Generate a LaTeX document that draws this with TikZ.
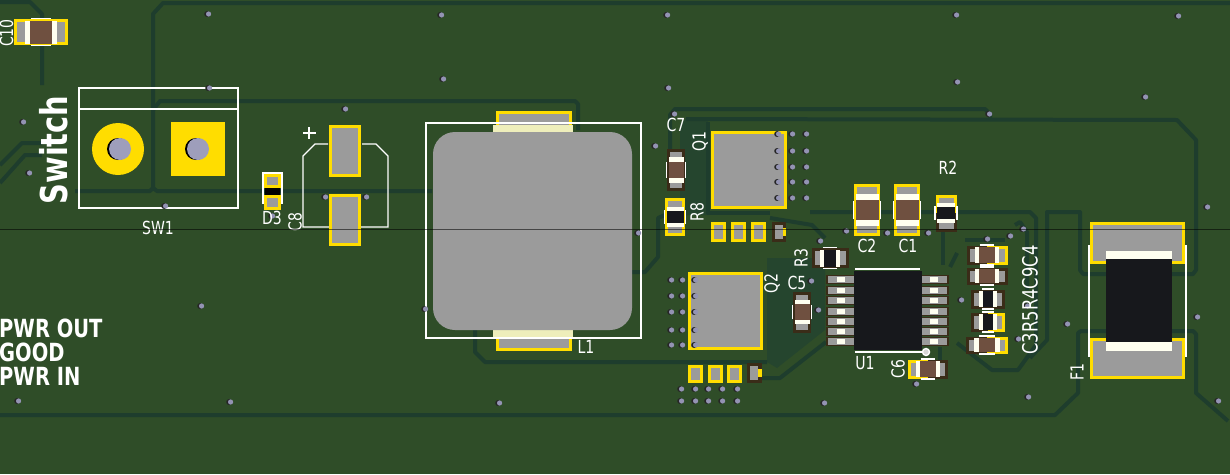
\documentclass[tikz,border=0pt]{standalone}
\usepackage{fontspec}
\setmainfont[FakeStretch=0.78]{DejaVu Sans}
\definecolor{boardgreen}{HTML}{2F4D28}
\definecolor{zonegreen}{HTML}{25452E}
\definecolor{trackgreen}{HTML}{1E3D2D}
\definecolor{padgrey}{HTML}{9B9B9B}
\definecolor{padyellow}{HTML}{FFDD00}
\definecolor{bodybrown}{HTML}{6F5040}
\definecolor{bodyblack}{HTML}{17181C}
\definecolor{rimbrown}{HTML}{3A2C18}
\definecolor{capwhite}{HTML}{FFFFF0}
\definecolor{palecap}{HTML}{EEEEBB}
\definecolor{vialav}{HTML}{9393B3}
\newcommand{\via}[2]{
    \fill[black!85] (#1-.8,#2) circle (3);
    \fill[vialav] (#1+.6,#2) circle (2.6);
}
\newcommand{\chippart}[9]{
    \begin{scope}[shift={(#1,#2)},rotate=#3]
        \fill[#6] (-#4/2,-#5/2) rectangle (0,#5/2);
        \fill[#7] (0,-#5/2) rectangle (#4/2,#5/2);
        \fill[padgrey] (-#4/2+3,-#5/2+3) rectangle (#4/2-3,#5/2-3);
        \fill[capwhite] ({-(#9+.11)*#4},-#5/2+1.5) rectangle ({(#9+.11)*#4},#5/2-1.5);
        \fill[#8] ({-#9*#4},-#5/2+1.5) rectangle ({#9*#4},#5/2-1.5);
        \draw[white, line width=1.2] (-.18*#4,-#5/2-.5) -- (.18*#4,-#5/2-.5);
        \draw[white, line width=1.2] (-.18*#4,#5/2+.5) -- (.18*#4,#5/2+.5);
    \end{scope}
}
\newcommand{\yellowpad}[4]{
    \fill[padyellow] (#1,#2) rectangle (#3,#4);
    \fill[padgrey] (#1+3,#2+3) rectangle (#3-3,#4-3);
}
\begin{document}
\begin{tikzpicture}[x=1pt, y=-1pt]
    \tikzstyle{track} = [draw=trackgreen, line width=4, line join=round]
    \tikzstyle{silk} = [draw=white, line width=1.4]
    \tikzstyle{label} = [text=white, inner sep=0pt, font=\fontsize{18}{18}\selectfont]
    \tikzstyle{boldlabel} = [text=white, inner sep=0pt, anchor=west, font=\fontsize{25}{25}\selectfont\bfseries]

    \useasboundingbox (0,0) rectangle (1230,474);
    \clip (0,0) rectangle (1230,474);
    \fill[boardgreen] (0,0) rectangle (1230,474);

    \fill[zonegreen] (686,118) -- (708,118) -- (708,215) -- (680,215) -- (680,124) -- cycle;
    \fill[zonegreen] (767,258) -- (825,258) -- (825,330) -- (777,368) -- (767,362) -- cycle;

    \draw[track] (0,2) -- (30,2) -- (42,14) -- (42,85);
    \draw[track] (153,190) -- (153,14) -- (163,3) -- (1230,3);
    \draw[track] (153,110) -- (160,101) -- (575,101) -- (578,104) -- (578,130);
    \draw[track] (75,191) -- (150,191) -- (153,188) -- (157,191) -- (432,191);
    \draw[track] (0,165) -- (22,143) -- (42,143);
    \draw[track] (0,183) -- (25,155) -- (42,155);
    \draw[track] (0,415) -- (1055,415) -- (1078,393) -- (1078,333) -- (1081,331) -- (1193,331) -- (1196,334) -- (1196,393) -- (1228,421);
    \draw[track] (686,119) -- (1177,120) -- (1196,140) -- (1196,270) -- (1193,274) -- (1083,274) -- (1080,270) -- (1080,212) -- (1047,212) -- (1047,340) -- (1030,358);
    \draw[track] (670,150) -- (670,115) -- (675,109) -- (985,109) -- (990,114) -- (990,120);
    \draw[track] (708,122) -- (708,213) -- (770,213);
    \draw[track] (770,218) -- (812,225) -- (825,238);
    \draw[track] (475,330) -- (475,352) -- (485,362) -- (767,362);
    \draw[track] (762,378) -- (780,378) -- (826,342);
    \draw[track] (632,272) -- (645,272) -- (658,257) -- (658,218) -- (665,215);
    \draw[track] (810,212) -- (1030,212) -- (1036,218) -- (1036,345) -- (1018,370) -- (992,370) -- (957,343);
    \draw[track] (943,232) -- (943,265);
    \draw[track] (957,253) -- (950,267);
    \draw[track] (965,240) -- (1005,240);
    \draw[track] (1015,225) -- (1020,222) -- (1027,232) -- (1027,290);
    \draw[track] (940,347) -- (940,360);

    \draw[silk] (79,88) rectangle (238,208);
    \draw[silk] (79,109) -- (238,109);
    \fill[padyellow] (118,149) circle (26);
    \fill[black] (118,149) circle (11);
    \fill[vialav!90!white] (120,149) circle (11);
    \fill[padyellow] (171,122) rectangle (225,176);
    \fill[black] (196,149) circle (11);
    \fill[vialav!90!white] (198,149) circle (11);

    \draw[silk] (263,173) rectangle (282,203);
    \fill[black] (265,188) rectangle (280,195);
    \yellowpad{264}{174}{281}{188}
    \yellowpad{264}{195}{281}{210}

    \draw[silk] (328,144) -- (315,144) -- (303,156) -- (303,227) -- (388,227) -- (388,156) -- (376,144) -- (362,144);
    \draw[silk] (303,133) -- (316,133);
    \draw[silk] (309,127) -- (309,139);
    \yellowpad{329}{125}{361}{177}
    \yellowpad{329}{194}{361}{246}

    \yellowpad{496}{111}{572}{132}
    \yellowpad{496}{330}{572}{351}
    \fill[palecap] (493,125) rectangle (573,132);
    \fill[palecap] (493,330) rectangle (573,338);
    \draw[silk] (426,123) rectangle (641,338);
    \fill[padgrey, rounded corners=22pt] (433,132) rectangle (632,330);

    \yellowpad{711}{131}{787}{209}
    \yellowpad{688}{272}{763}{350}
    \foreach \padx in {711,731,751} {
        \yellowpad{\padx}{222}{\padx+15}{242}
    }
    \foreach \padx in {688,708,727} {
        \yellowpad{\padx}{365}{\padx+15}{383}
    }
    \fill[rimbrown] (772,222) rectangle (786,242);
    \fill[padgrey] (775,225) rectangle (783,239);
    \fill[padyellow] (783,228) rectangle (786,236);
    \fill[rimbrown] (747,363) rectangle (762,383);
    \fill[padgrey] (750,366) rectangle (758,380);
    \fill[padyellow] (758,369) rectangle (762,377);

    \foreach \rowy in {134,151,167,182,198} {
        \foreach \colx in {778,792,806} {
            \via{\colx}{\rowy}
        }
    }
    \foreach \rowy in {280,296,312,330,345} {
        \foreach \colx in {671,682,695} {
            \via{\colx}{\rowy}
        }
    }
    \foreach \rowy in {389,401} {
        \foreach \colx in {681,695,708,722,737} {
            \via{\colx}{\rowy}
        }
    }
    \foreach \viax/\viay in {208/14,209/88,23/122,29/173,165/206,345/109,325/197,366/197,272/216,201/306,18/401,230/402,441/15,667/15,956/15,1178/16,443/79,668/88,957/82,1145/97,674/114,989/114,499/403,824/403,916/384,1028/397,1218/401,1207/207,1197/317,1067/324,638/233,425/309,655/146,820/241,846/231,887/233,928/233,1023/229,1010/236,987/239,961/300,1027/306,1018/339,818/310,811/281} {
        \via{\viax}{\viay}
    }

    \foreach \piny in {279,290,300,311,321,331,341} {
        \fill[rimbrown] (826,\piny-4.5) rectangle (854,\piny+4.5);
        \fill[padgrey] (828,\piny-3.5) rectangle (854,\piny+3.5);
        \fill[capwhite] (837,\piny-2.5) rectangle (845,\piny+2.5);
        \fill[rimbrown] (922,\piny-4.5) rectangle (949,\piny+4.5);
        \fill[padgrey] (922,\piny-3.5) rectangle (947,\piny+3.5);
        \fill[capwhite] (930,\piny-2.5) rectangle (938,\piny+2.5);
    }
    \fill[bodyblack] (854,271) rectangle (922,350);
    \draw[silk] (855,269) -- (920,269);
    \draw[silk] (855,352) -- (925,352);
    \draw[white, fill=padgrey!40!white, line width=1.4] (926,352) circle (3.5);

    \chippart{41}{32}{0}{54}{26}{padyellow}{padyellow}{bodybrown}{.195}
    \chippart{676}{170}{90}{42}{18}{rimbrown}{rimbrown}{bodybrown}{.19}
    \chippart{675}{217}{90}{38}{20}{padyellow}{padyellow}{bodyblack}{.16}
    \chippart{867}{210}{90}{52}{26}{padyellow}{padyellow}{bodybrown}{.19}
    \chippart{907}{210}{90}{52}{26}{padyellow}{padyellow}{bodybrown}{.19}
    \chippart{946}{213}{90}{37}{21}{rimbrown}{padyellow}{bodyblack}{.16}
    \chippart{830}{258}{0}{37}{20}{rimbrown}{rimbrown}{bodyblack}{.16}
    \chippart{802}{312}{90}{41}{18}{rimbrown}{rimbrown}{bodybrown}{.19}
    \chippart{928}{369}{0}{40}{19}{padyellow}{rimbrown}{bodybrown}{.19}
    \chippart{987}{255}{0}{41}{19}{rimbrown}{padyellow}{bodybrown}{.19}
    \chippart{987}{276}{0}{41}{17}{rimbrown}{rimbrown}{bodybrown}{.19}
    \chippart{988}{299}{0}{34}{19}{rimbrown}{rimbrown}{bodyblack}{.16}
    \chippart{988}{322}{0}{34}{19}{rimbrown}{padyellow}{bodyblack}{.16}
    \chippart{987}{345}{0}{42}{17}{rimbrown}{padyellow}{bodybrown}{.19}

    \yellowpad{1090}{222}{1185}{264}
    \yellowpad{1090}{338}{1185}{379}
    \fill[capwhite] (1106,251) rectangle (1172,351);
    \fill[bodyblack] (1106,259) rectangle (1172,342);
    \draw[white, line width=2] (1089,245) -- (1089,357);
    \draw[white, line width=2] (1186,245) -- (1186,357);

    \path
        node[label, rotate=90] (C10) at (6.5,33) {C10}
        node[label, rotate=90, font=\fontsize{37}{37}\selectfont\bfseries] (Switch) at (54,150) {Switch}
        node[label] (SW1) at (158,228) {SW1}
        node[label] (D3) at (272,218) {D3}
        node[label, rotate=90] (C8) at (295,222) {C8}
        node[label] (L1) at (586,347) {L1}
        node[label] (C7) at (676,125) {C7}
        node[label, rotate=90] (Q1) at (700,142) {Q1}
        node[label, rotate=90] (R8) at (697,212) {R8}
        node[label, rotate=90] (Q2) at (772,284) {Q2}
        node[label] (C2) at (867,246) {C2}
        node[label] (C1) at (908,246) {C1}
        node[label] (R2) at (948,168) {R2}
        node[label, rotate=90] (R3) at (801,258) {R3}
        node[label] (C5) at (797,283) {C5}
        node[label] (U1) at (865,363) {U1}
        node[label, rotate=90] (C6) at (898,369) {C6}
        node[label, rotate=90] (F1) at (1077,372) {F1}
        node[label, rotate=90, font=\fontsize{21}{21}\selectfont] (C3R5) at (1030,300) {C3R5R4C9C4}
        node[boldlabel] (PWROUT) at (-1,328) {PWR OUT}
        node[boldlabel] (GOOD) at (-1,352) {GOOD}
        node[boldlabel] (PWRIN) at (-1,376) {PWR IN};

    \draw[black, opacity=.55, line width=1] (0,229) -- (1230,229);
\end{tikzpicture}
\end{document}
